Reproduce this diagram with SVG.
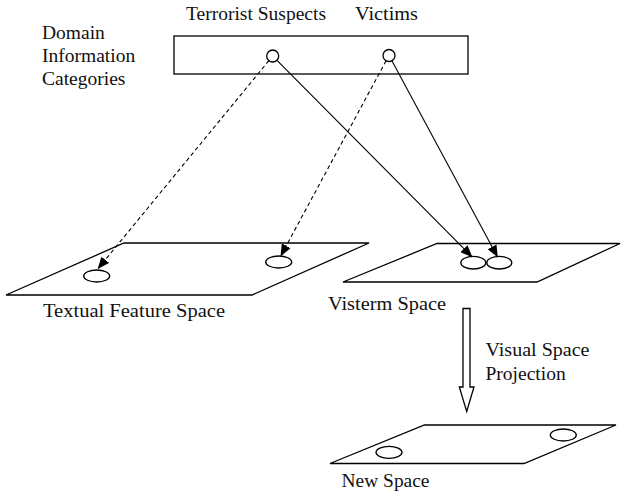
<svg xmlns="http://www.w3.org/2000/svg" width="624" height="496" viewBox="0 0 624 496">
<style>
.t{font-family:"Liberation Serif","Times New Roman",serif;font-size:19.5px;fill:#111}
.s{fill:#fff;stroke:#000;stroke-width:1.3}
.c{stroke:#000;stroke-width:1.1;fill:none}
.d{stroke-dasharray:4 3}
</style>
<defs>
<marker id="ah" markerUnits="userSpaceOnUse" markerWidth="12" markerHeight="10" viewBox="0 0 12 10" refX="11" refY="5" orient="auto">
<path d="M0,0 L12,5 L0,10 Z" fill="#000"/>
</marker>
</defs>
<rect width="624" height="496" fill="#fff"/>
<g id="labels">
<text class="t" x="42" y="39">Domain</text>
<text class="t" x="42" y="62">Information</text>
<text class="t" x="42" y="85">Categories</text>
<text class="t" x="186" y="20" textLength="140" lengthAdjust="spacingAndGlyphs">Terrorist Suspects</text>
<text class="t" x="355" y="20" textLength="63" lengthAdjust="spacingAndGlyphs">Victims</text>
</g>
<g id="domain">
<rect class="s" x="174" y="36" width="294" height="38"/>
<circle class="s" cx="272.7" cy="56" r="6"/>
<circle class="s" cx="389" cy="55.5" r="6"/>
</g>
<g id="textual">
<polygon class="s" points="124,243 369,243 252,295 6,295"/>
<ellipse class="s" cx="96.7" cy="276" rx="13" ry="6"/>
<ellipse class="s" cx="278.7" cy="262" rx="13" ry="6"/>
<text class="t" x="43" y="317" textLength="182" lengthAdjust="spacingAndGlyphs">Textual Feature Space</text>
</g>
<g id="visterm">
<polygon class="s" points="437,243.5 620,243.5 537,282 343,282"/>
<ellipse class="s" cx="473.3" cy="262.7" rx="12.5" ry="6.3"/>
<ellipse class="s" cx="499.3" cy="262.7" rx="12.5" ry="6.3"/>
<text class="t" x="328" y="310" textLength="118" lengthAdjust="spacingAndGlyphs">Visterm Space</text>
</g>
<g id="projection">
<polygon class="s" points="463,308.5 470,308.5 470,387 474,387 466.7,411.5 459.3,387 463,387"/>
<text class="t" x="485.5" y="356" textLength="104" lengthAdjust="spacingAndGlyphs">Visual Space</text>
<text class="t" x="485.5" y="380">Projection</text>
</g>
<g id="newspace">
<polygon class="s" points="424.5,425 616,425 524,463.5 330,463.5"/>
<ellipse class="s" cx="389" cy="452.3" rx="13" ry="6"/>
<ellipse class="s" cx="563.3" cy="435" rx="13" ry="6"/>
<text class="t" x="341.5" y="486.5" textLength="88" lengthAdjust="spacingAndGlyphs">New Space</text>
</g>
<g id="connectors">
<line class="c d" x1="268.9" y1="60.6" x2="98.3" y2="268.3" marker-end="url(#ah)"/>
<line class="c d" x1="386.1" y1="60.8" x2="281" y2="255.5" marker-end="url(#ah)"/>
<line class="c" x1="277" y1="60.3" x2="471.7" y2="256.5" marker-end="url(#ah)"/>
<line class="c" x1="391.9" y1="60.8" x2="497.3" y2="256.5" marker-end="url(#ah)"/>
</g>
</svg>
